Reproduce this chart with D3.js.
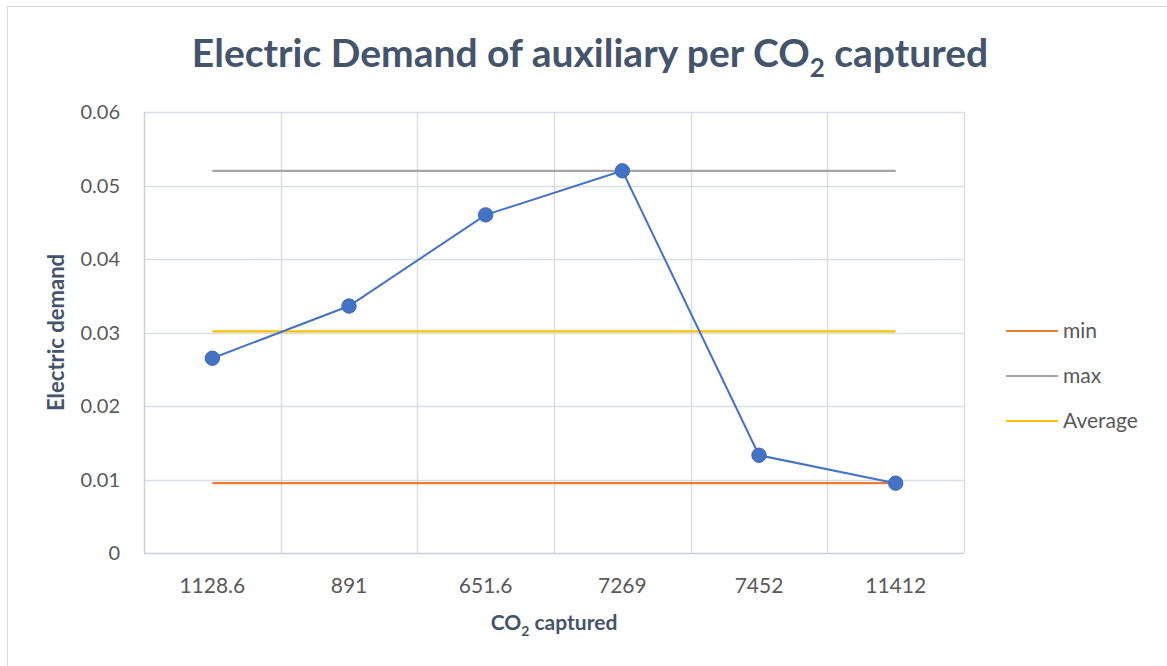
<!DOCTYPE html>
<html>
<head>
<meta charset="utf-8">
<script src="https://cdn.jsdelivr.net/npm/d3@7"></script>
<style>
  html, body { margin: 0; padding: 0; background: #fff; }
  svg { display: block; font-family: Lato, "Open Sans", sans-serif; }
</style>
</head>
<body>
<svg id="chart" width="1167" height="666"></svg>
<script>
// CO2 captured per run (category labels) and the electric demand of the auxiliaries
const categories = ["1128.6", "891", "651.6", "7269", "7452", "11412"];
const demand = [0.0265, 0.0336, 0.0460, 0.0520, 0.0133, 0.0095];
const yTicks = [0, 0.01, 0.02, 0.03, 0.04, 0.05, 0.06];

// Reference lines drawn across all categories
const minValue = d3.min(demand);
const maxValue = d3.max(demand);
const avgValue = d3.mean(demand);
const refSeries = [
  { name: "min", value: minValue, color: "#ED7D31" },
  { name: "max", value: maxValue, color: "#A5A5A5" },
  { name: "Average", value: avgValue, color: "#FFC000" }
];

const svg = d3.select("#chart");
const plot = { left: 144, right: 964, top: 112, bottom: 553 };

// Chart frame
svg.append("rect")
  .attr("x", 7.5).attr("y", 6.5)
  .attr("width", 1200).attr("height", 700)
  .attr("fill", "#fff").attr("stroke", "#D9D9D9").attr("stroke-width", 1);

const x = d3.scaleBand().domain(categories).range([plot.left, plot.right]).paddingInner(0).paddingOuter(0);
const y = d3.scaleLinear().domain([0, 0.06]).range([plot.bottom, plot.top]);
const cx = d => x(d) + x.bandwidth() / 2;

const gridColor = "#D9DEE6";

// Horizontal gridlines
svg.append("g")
  .selectAll("line").data(yTicks.filter(t => t > 0)).join("line")
  .attr("x1", plot.left).attr("x2", plot.right)
  .attr("y1", d => Math.round(y(d)) + 0.5).attr("y2", d => Math.round(y(d)) + 0.5)
  .attr("stroke", gridColor).attr("stroke-width", 1.5);

// Vertical gridlines at category boundaries
const bounds = categories.map(c => x(c)).concat([plot.right]).slice(1);
svg.append("g")
  .selectAll("line").data(bounds).join("line")
  .attr("x1", d => Math.round(d) + 0.5).attr("x2", d => Math.round(d) + 0.5)
  .attr("y1", plot.top).attr("y2", plot.bottom)
  .attr("stroke", gridColor).attr("stroke-width", 1.5);

// Axes lines
svg.append("line")
  .attr("x1", plot.left + 0.5).attr("x2", plot.left + 0.5)
  .attr("y1", plot.top).attr("y2", plot.bottom)
  .attr("stroke", "#C9D0DB").attr("stroke-width", 1.5);
svg.append("line")
  .attr("x1", plot.left).attr("x2", plot.right)
  .attr("y1", plot.bottom + 0.5).attr("y2", plot.bottom + 0.5)
  .attr("stroke", "#C9D0DB").attr("stroke-width", 1.5);

// Y tick labels
svg.append("g")
  .selectAll("text").data(yTicks).join("text")
  .attr("x", 120).attr("y", d => y(d))
  .attr("dy", "0.35em")
  .attr("text-anchor", "end")
  .attr("fill", "#595959")
  .attr("font-size", 20)
  .text(d => d === 0 ? "0" : d3.format(".2f")(d));

// X tick labels
svg.append("g")
  .selectAll("text").data(categories).join("text")
  .attr("x", d => cx(d)).attr("y", 593)
  .attr("text-anchor", "middle")
  .attr("fill", "#595959")
  .attr("font-size", 21)
  .text(d => d);

// Reference lines
const first = categories[0], last = categories[categories.length - 1];
svg.append("g")
  .selectAll("line").data(refSeries).join("line")
  .attr("x1", cx(first)).attr("x2", cx(last))
  .attr("y1", d => y(d.value)).attr("y2", d => y(d.value))
  .attr("stroke", d => d.color).attr("stroke-width", 2.2);

// Demand line and markers
const line = d3.line().x((d, i) => cx(categories[i])).y(d => y(d));
svg.append("path")
  .datum(demand)
  .attr("d", line)
  .attr("fill", "none")
  .attr("stroke", "#4472C4")
  .attr("stroke-width", 2);
svg.append("g")
  .selectAll("circle").data(demand).join("circle")
  .attr("cx", (d, i) => cx(categories[i])).attr("cy", d => y(d))
  .attr("r", 7.2)
  .attr("fill", "#4472C4")
  .attr("stroke", "#3F69B5").attr("stroke-width", 1);

// Title
const title = svg.append("text")
  .attr("x", 590).attr("y", 67)
  .attr("text-anchor", "middle")
  .attr("fill", "#44546A")
  .attr("font-size", 39)
  .attr("font-weight", "bold");
title.append("tspan").text("Electric Demand of auxiliary per CO");
title.append("tspan").attr("font-size", 26).attr("dy", 10).text("2");
title.append("tspan").attr("dy", -10).text(" captured");

// Y axis title
svg.append("text")
  .attr("transform", "translate(64," + (plot.top + plot.bottom) / 2 + ") rotate(-90)")
  .attr("text-anchor", "middle")
  .attr("fill", "#44546A")
  .attr("font-size", 22)
  .attr("font-weight", "bold")
  .text("Electric demand");

// X axis title
const xt = svg.append("text")
  .attr("x", (plot.left + plot.right) / 2).attr("y", 630)
  .attr("text-anchor", "middle")
  .attr("fill", "#44546A")
  .attr("font-size", 21)
  .attr("font-weight", "bold");
xt.append("tspan").text("CO");
xt.append("tspan").attr("font-size", 14).attr("dy", 6).text("2");
xt.append("tspan").attr("dy", -6).text(" captured");

// Legend
const legend = svg.append("g")
  .selectAll("g").data(refSeries).join("g")
  .attr("transform", (d, i) => "translate(1006," + (331 + i * 45) + ")");
legend.append("line")
  .attr("x1", 0).attr("x2", 52).attr("y1", 0).attr("y2", 0)
  .attr("stroke", d => d.color).attr("stroke-width", 2.2);
legend.append("text")
  .attr("x", 57).attr("y", 0).attr("dy", "0.35em")
  .attr("fill", "#595959")
  .attr("font-size", 21)
  .text(d => d.name);
</script>
</body>
</html>
